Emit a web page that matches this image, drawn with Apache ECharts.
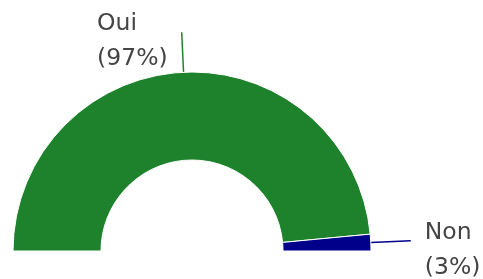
<!DOCTYPE html>
<html>
<head>
<meta charset="utf-8">
<script src="https://cdn.jsdelivr.net/npm/echarts@6/dist/echarts.min.js"></script>
<style>
  html, body { margin: 0; padding: 0; background: #fff; }
  #chart { width: 483px; height: 279px; }
</style>
</head>
<body>
<div id="chart"></div>
<script>
var categories = ["Oui", "Non"];
var values = [97, 3];
var colors = ["#1e822d", "#00008b"];
// gap between leader line end and text: left-side label / right-side label
var labelPads = [[19, 9, 0, 0], [19, 0, 0, 9]];

var chart = echarts.init(document.getElementById("chart"));
chart.setOption({
  animation: false,
  series: [
    {
      type: "pie",
      center: [192, 251],
      radius: [91, 179],
      startAngle: 180,
      endAngle: 0,
      clockwise: true,
      data: categories.map(function (c, i) {
        return {
          name: c,
          value: values[i],
          itemStyle: { color: colors[i] },
          label: { padding: labelPads[i] }
        };
      }),
      itemStyle: { borderColor: "#fff", borderWidth: 1 },
      label: {
        formatter: "{t|{b}}\n{t|({d}%)}",
        overflow: "none",
        rich: {
          t: {
            align: "left",
            fontFamily: "DejaVu Sans",
            fontSize: 23.5,
            lineHeight: 35,
            color: "#444"
          }
        }
      },
      labelLine: {
        length: 40,
        length2: 0,
        lineStyle: { width: 1.5 }
      }
    }
  ]
});
</script>
</body>
</html>
